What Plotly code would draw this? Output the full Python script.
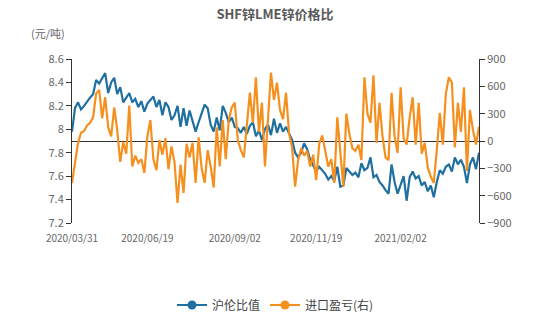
import plotly.graph_objects as go

title_text = "SHF锌LME锌价格比"
unit_text = "(元/吨)"
series_names = ["沪伦比值", "进口盈亏(右)"]
tick_labels = ["2020/03/31", "2020/06/19", "2020/09/02", "2020/11/19", "2021/02/02"]
tick_index = [0, 25, 54, 81, 109]

ratio = [
    7.98, 8.18, 8.23, 8.17, 8.20, 8.24, 8.27, 8.30, 8.42, 8.39,
    8.43, 8.48, 8.31, 8.40, 8.44, 8.30, 8.36, 8.23, 8.27, 8.31,
    8.23, 8.26, 8.19, 8.24, 8.15, 8.22, 8.25, 8.28, 8.19, 8.25,
    8.12, 8.23, 8.19, 8.08, 8.12, 8.20, 8.02, 8.18, 8.03, 8.16,
    8.07, 7.98, 8.06, 8.13, 8.21, 8.18, 8.04, 7.98, 8.10, 7.99,
    8.20, 8.14, 8.06, 8.10, 8.02, 8.01, 7.97, 8.02, 7.96, 8.03,
    8.06, 7.94, 7.99, 7.91, 8.00, 8.04, 7.95, 8.09, 7.97, 8.05,
    7.98, 8.02, 7.97, 7.91, 7.80, 7.76, 7.80, 7.88, 7.83, 7.74,
    7.69, 7.64, 7.68, 7.65, 7.62, 7.57, 7.60, 7.56, 7.68, 7.51,
    7.52, 7.67, 7.64, 7.61, 7.63, 7.59, 7.71, 7.65, 7.67, 7.76,
    7.59, 7.61, 7.55, 7.52, 7.48, 7.45, 7.70, 7.55, 7.45, 7.52,
    7.60, 7.39, 7.59, 7.64, 7.58, 7.60, 7.52, 7.55, 7.47, 7.52,
    7.42, 7.55, 7.65, 7.62, 7.68, 7.70, 7.64, 7.76, 7.70, 7.74,
    7.68, 7.54, 7.70, 7.76, 7.66, 7.80,
]

profit = [
    -460, -250, -20, 90, 110, 170, 200, 260, 520, 560,
    250, 480, 150, 50, 370, 120, -230, -10, -140, 390,
    -280, -160, -240, -200, -350, 50, 230, -200, -320, 10,
    -150, 30, -310, -60, -230, -680, -260, -570, -30, -180,
    -20, -460, 40, -300, -460, -100, -280, -510, 150, -280,
    230, -200, 230, 370, 420, 10, -100, -180, 150, 530,
    200, 700, 100, 420, -280, 230, 750, 450, 640, 340,
    240, 530, 80, -70, -500, -210, -80, -160, -110, -280,
    -150, -430, -30, 60, -100, -280, -200, -460, 260, -150,
    -500, 300, 80, -80, -110, -40, -210, 700, 300, 200,
    720, -20, 420, 50, -180, -210, 530, 50, -130, 590,
    30, -40, 260, 480, -40, 420, -140, -20, -290, -390,
    -460, -100, 310, -40, 520, 700, 640, -70, 420, 100,
    590, -330, 340, 120, -40, 160,
]

blue = "#1f6fa0"
orange = "#f5901e"
grey = "#666666"
font_family = "Noto Sans CJK SC, Noto Sans, sans-serif"

x = list(range(len(ratio)))

fig = go.Figure()
fig.add_trace(go.Scatter(x=x, y=profit, mode="lines", yaxis="y2",
                         line=dict(color=orange, width=2.2), showlegend=False))
fig.add_trace(go.Scatter(x=x, y=ratio, mode="lines", yaxis="y",
                         line=dict(color=blue, width=2.2), showlegend=False))
# legend entries
fig.add_trace(go.Scatter(x=[None], y=[None], mode="lines+markers", name=series_names[0],
                         line=dict(color=blue, width=2), marker=dict(color=blue, size=9)))
fig.add_trace(go.Scatter(x=[None], y=[None], mode="lines+markers", name=series_names[1],
                         line=dict(color=orange, width=2), marker=dict(color=orange, size=9)))

fig.update_layout(
    width=550, height=323,
    margin=dict(l=72, r=71, t=59, b=100, autoexpand=False),
    paper_bgcolor="white", plot_bgcolor="white",
    font=dict(family=font_family, size=11, color=grey),
    title=dict(text="<b>" + title_text + "</b>", x=0.5, xanchor="center", y=0.955, yanchor="middle",
               font=dict(size=13, color="#595959")),
    xaxis=dict(range=[0, len(ratio) - 1], tickmode="array", tickvals=tick_index, ticktext=tick_labels,
               showgrid=False, zeroline=False, showline=False, ticks="",
               ticklabelstandoff=8,
               tickfont=dict(size=10, color=grey)),
    yaxis=dict(range=[7.2, 8.6], tickvals=[7.2, 7.4, 7.6, 7.8, 8.0, 8.2, 8.4, 8.6],
               ticktext=["7.2", "7.4", "7.6", "7.8", "8", "8.2", "8.4", "8.6"],
               showgrid=False, zeroline=False, showline=True, linecolor="#333333", linewidth=1,
               ticks="outside", ticklen=5, tickcolor="#333333", tickfont=dict(size=11, color=grey)),
    yaxis2=dict(range=[-900, 900], tickvals=[-900, -600, -300, 0, 300, 600, 900],
                overlaying="y", side="right", showgrid=False,
                zeroline=True, zerolinecolor="#333333", zerolinewidth=1,
                showline=True, linecolor="#333333", linewidth=1,
                ticks="outside", ticklen=5, tickcolor="#333333", tickfont=dict(size=11, color=grey)),
    legend=dict(orientation="h", x=0.5, xanchor="center", y=-0.5, yanchor="middle",
                font=dict(size=12, color="#444444"), itemwidth=30),
    annotations=[dict(text=unit_text, xref="paper", yref="paper", x=-0.06, y=1.16,
                      xanchor="center", yanchor="middle", showarrow=False,
                      font=dict(size=11, color=grey))],
)

fig.write_html("out.html")
